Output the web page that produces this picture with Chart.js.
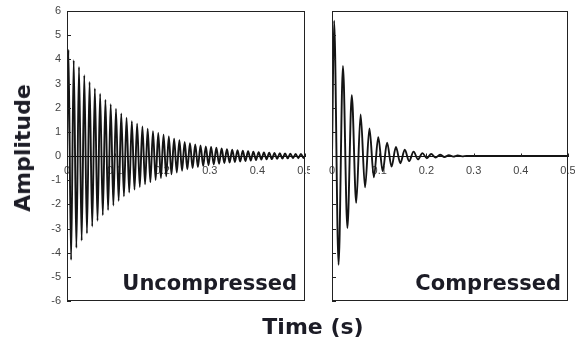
<!DOCTYPE html>
<html>
<head>
<meta charset="utf-8">
<script src="https://cdn.jsdelivr.net/npm/chart.js@4.4.1/dist/chart.umd.min.js"></script>
<style>
  html, body { margin: 0; padding: 0; background: #fff; }
  #wrap { position: relative; width: 575px; height: 345px; overflow: hidden; }
  #left { position: absolute; left: 0; top: 0; }
  #right { position: absolute; left: 310px; top: 0; }
  .title { position: absolute; font-family: "DejaVu Sans", sans-serif; font-weight: bold;
           color: #1c1c26; white-space: nowrap; line-height: 1; }
  #ytitle { left: 23px; top: 148px; font-size: 22px; transform: translate(-50%, -50%) rotate(-90deg); }
  #xtitle { left: 313px; top: 316px; font-size: 22px; transform: translateX(-50%); }
</style>
</head>
<body>
<div id="wrap">
  <canvas id="left" width="310" height="345"></canvas>
  <canvas id="right" width="265" height="345"></canvas>
  <div class="title" id="ytitle">Amplitude</div>
  <div class="title" id="xtitle">Time (s)</div>
</div>
<script>
// Axis ticks
const tickValuesX = [0, 0.1, 0.2, 0.3, 0.4, 0.5];
const tickValuesY = [-6, -5, -4, -3, -2, -1, 0, 1, 2, 3, 4, 5, 6];

// Uncompressed signal: successive peaks and troughs (s, amplitude)
const uncompressedTime = [
  0, 0.0030, 0.0086, 0.0141, 0.0197, 0.0252, 0.0308, 0.0363, 0.0419, 0.0474, 0.0530,
  0.0585, 0.0641, 0.0696, 0.0752, 0.0807, 0.0863, 0.0918, 0.0974, 0.1029, 0.1085,
  0.1140, 0.1196, 0.1251, 0.1307, 0.1362, 0.1418, 0.1473, 0.1529, 0.1584, 0.1640,
  0.1695, 0.1751, 0.1806, 0.1862, 0.1917, 0.1973, 0.2028, 0.2084, 0.2139, 0.2195,
  0.2250, 0.2306, 0.2361, 0.2417, 0.2472, 0.2528, 0.2583, 0.2639, 0.2694, 0.2750,
  0.2805, 0.2861, 0.2916, 0.2972, 0.3027, 0.3083, 0.3138, 0.3194, 0.3249, 0.3305,
  0.3360, 0.3416, 0.3471, 0.3527, 0.3582, 0.3638, 0.3693, 0.3749, 0.3804, 0.3860,
  0.3915, 0.3971, 0.4026, 0.4082, 0.4137, 0.4193, 0.4248, 0.4304, 0.4359, 0.4415,
  0.4470, 0.4526, 0.4581, 0.4637, 0.4692, 0.4748, 0.4803, 0.4859, 0.4914, 0.4970,
  0.5000
];
const uncompressedAmp = [
  0,
  4.40, -4.30, 3.96, -3.80, 3.68, -3.50, 3.34, -3.20, 3.06, -2.92,
  2.79, -2.68, 2.58, -2.45, 2.33, -2.24, 2.14, -2.05, 1.96, -1.86,
  1.76, -1.67, 1.58, -1.51, 1.44, -1.39, 1.34, -1.28, 1.22, -1.17,
  1.13, -1.08, 1.03, -0.99, 0.95, -0.91, 0.88, -0.84, 0.81, -0.76,
  0.72, -0.68, 0.65, -0.61, 0.58, -0.55, 0.53, -0.50, 0.48, -0.46,
  0.44, -0.42, 0.40, -0.38, 0.37, -0.35, 0.34, -0.32, 0.31, -0.29,
  0.28, -0.27, 0.26, -0.25, 0.24, -0.23, 0.22, -0.21, 0.20, -0.19,
  0.18, -0.17, 0.16, -0.15, 0.15, -0.14, 0.14, -0.13, 0.13, -0.12,
  0.12, -0.11, 0.11, -0.10, 0.10, -0.09, 0.09, -0.09, 0.09, -0.08,
  0
];

// Compressed signal: successive peaks and troughs (s, amplitude)
const compressedTime = [
  0, 0.0045, 0.0139, 0.0232, 0.0326, 0.0419, 0.0513, 0.0606, 0.0700, 0.0793, 0.0887,
  0.0980, 0.1074, 0.1167, 0.1261, 0.1354, 0.1448, 0.1541, 0.1635, 0.1728, 0.1822,
  0.1915, 0.2009, 0.2102, 0.2196, 0.2289, 0.2383, 0.2476, 0.2570, 0.2663, 0.2757,
  0.2850, 0.5000
];
const compressedAmp = [
  0, 5.60, -4.50, 3.73, -2.98, 2.52, -1.94, 1.72, -1.30, 1.14, -0.88,
  0.78, -0.63, 0.55, -0.44, 0.37, -0.30, 0.26, -0.21, 0.18, -0.14,
  0.12, -0.09, 0.08, -0.06, 0.05, -0.04, 0.03, -0.025, 0.02, -0.015,
  0, 0
];

const INK = '#141414';
const TICK_FONT = { family: 'Liberation Sans, Arial, sans-serif', size: 11 };

// Panel frame, inward tick marks and the panel caption
const framePlugin = {
  id: 'panelFrame',
  afterDraw(chart, args, opts) {
    const { ctx, chartArea: a, scales } = chart;
    ctx.save();
    ctx.strokeStyle = '#222';
    ctx.lineWidth = 1;
    ctx.strokeRect(a.left + 0.5, a.top + 0.5, a.right - a.left - 1, a.bottom - a.top - 1);
    ctx.beginPath();
    tickValuesY.forEach(v => {
      const y = Math.round(scales.y.getPixelForValue(v)) + 0.5;
      ctx.moveTo(a.left, y);
      ctx.lineTo(a.left + 4, y);
    });
    const y0 = Math.round(scales.y.getPixelForValue(0)) + 0.5;
    tickValuesX.forEach(v => {
      const x = Math.round(scales.x.getPixelForValue(v)) + 0.5;
      ctx.moveTo(x, y0);
      ctx.lineTo(x, y0 - 3);
    });
    ctx.stroke();
    ctx.fillStyle = '#1c1c26';
    ctx.font = 'bold 21px "DejaVu Sans", sans-serif';
    ctx.textAlign = 'right';
    ctx.textBaseline = 'alphabetic';
    ctx.fillText(opts.caption, a.right - opts.inset, a.bottom - 11);
    ctx.restore();
  }
};

function makePanel(canvasId, times, amps, caption, showYLabels, padding, inset) {
  return new Chart(document.getElementById(canvasId), {
    type: 'line',
    data: {
      datasets: [{
        data: times.map((t, i) => ({ x: t, y: amps[i] })),
        borderColor: INK,
        borderWidth: 1.9,
        pointRadius: 0,
        cubicInterpolationMode: 'monotone',
        fill: false
      }]
    },
    options: {
      responsive: false,
      animation: false,
      layout: { padding },
      plugins: {
        legend: { display: false },
        tooltip: { enabled: false },
        panelFrame: { caption, inset }
      },
      scales: {
        x: {
          type: 'linear',
          min: 0, max: 0.5,
          position: { y: 0 },
          grid: { display: false, drawTicks: false, tickLength: 0 },
          border: { display: true, color: '#111', width: 1 },
          afterBuildTicks: s => { s.ticks = tickValuesX.map(v => ({ value: v })); },
          afterFit: s => { s.paddingLeft = 0; s.paddingRight = 0; },
          ticks: {
            font: TICK_FONT, color: '#444', padding: 8, maxRotation: 0, autoSkip: false,
            callback: v => String(Number(v.toFixed(1)))
          }
        },
        y: {
          type: 'linear',
          min: -6, max: 6,
          display: showYLabels,
          grid: { display: false, drawTicks: false, tickLength: 0 },
          border: { display: false },
          afterBuildTicks: s => { s.ticks = tickValuesY.map(v => ({ value: v })); },
          afterFit: s => {
            if (showYLabels) { s.width = 67; } else { s.width = 0; }
            s.paddingTop = 0; s.paddingBottom = 0;
          },
          ticks: { font: TICK_FONT, color: '#444', padding: 6 }
        }
      }
    },
    plugins: [framePlugin]
  });
}

makePanel('left', uncompressedTime, uncompressedAmp, 'Uncompressed', true,
  { left: 0, right: 5, top: 11, bottom: 44 }, 8);
makePanel('right', compressedTime, compressedAmp, 'Compressed', false,
  { left: 22, right: 7, top: 11, bottom: 44 }, 7);
</script>
</body>
</html>
